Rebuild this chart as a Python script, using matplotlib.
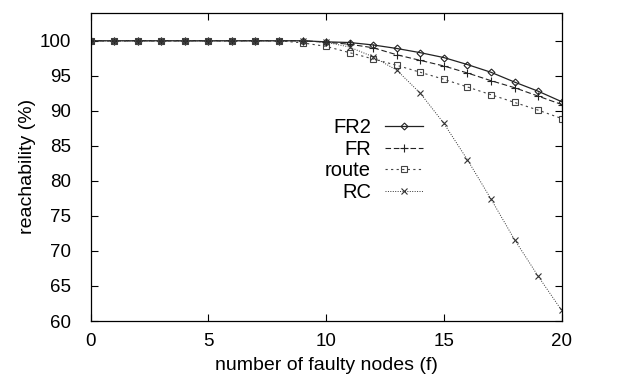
import numpy as np
import matplotlib.pyplot as plt

plt.rcParams['font.family'] = ['Liberation Sans', 'DejaVu Sans']

f = list(range(21))
fr2 = [100] * 10 + [99.85, 99.75, 99.4, 98.9, 98.3, 97.6, 96.6, 95.5, 94.1, 92.8, 91.3]
fr = [100] * 10 + [99.8, 99.5, 99.0, 98.0, 97.2, 96.4, 95.4, 94.3, 93.3, 92.1, 90.9]
route = [100] * 9 + [99.7, 99.2, 98.3, 97.4, 96.5, 95.5, 94.5, 93.4, 92.3, 91.2, 90.1, 88.9]
rc = [100] * 10 + [99.8, 99.1, 97.7, 95.8, 92.5, 88.2, 83.0, 77.4, 71.6, 66.4, 61.5]

fig = plt.figure(figsize=(6.2, 3.75), dpi=100)
ax = fig.add_axes([0.146, 0.144, 0.76, 0.822])

ms = 5
ax.plot(f, fr2, color='#222222', lw=0.9, ls='-', marker='D', ms=3.5, mfc='none', mec='#222222', mew=0.8, label='FR2')
ax.plot(f, fr, color='#222222', lw=0.8, ls=(0, (5, 2.5)), marker='+', ms=ms + 1, mew=0.8, label='FR')
ax.plot(f, route, color='#444444', lw=0.8, ls=(0, (2, 3)), marker='s', ms=ms, mfc='none', mec='#444444', mew=0.8, label='route')
ax.plot(f, rc, color='#333333', lw=0.7, ls=(0, (1, 1.5)), marker='x', ms=ms, mew=0.8, label='RC')

ax.set_xlim(0, 20)
ax.set_ylim(60, 104)
ax.set_xticks([0, 5, 10, 15, 20])
ax.set_yticks(np.arange(60, 101, 5))
ax.tick_params(direction='in', top=True, right=True, labelsize=13.5, length=5, width=0.8)
ax.tick_params(axis='x', pad=9)
ax.tick_params(axis='y', pad=14)
for spine in ax.spines.values():
    spine.set_linewidth(0.9)

ax.set_xlabel('number of faulty nodes (f)', fontsize=14, labelpad=5)
ax.set_ylabel('reachability (%)', fontsize=14, labelpad=3)

ax.legend(loc='upper right', bbox_to_anchor=(0.728, 0.69), markerfirst=False, frameon=False,
          fontsize=14.5, handlelength=1.9, handletextpad=0.7, labelspacing=0.12, borderpad=0)

fig.savefig('out.png')
plt.close(fig)
